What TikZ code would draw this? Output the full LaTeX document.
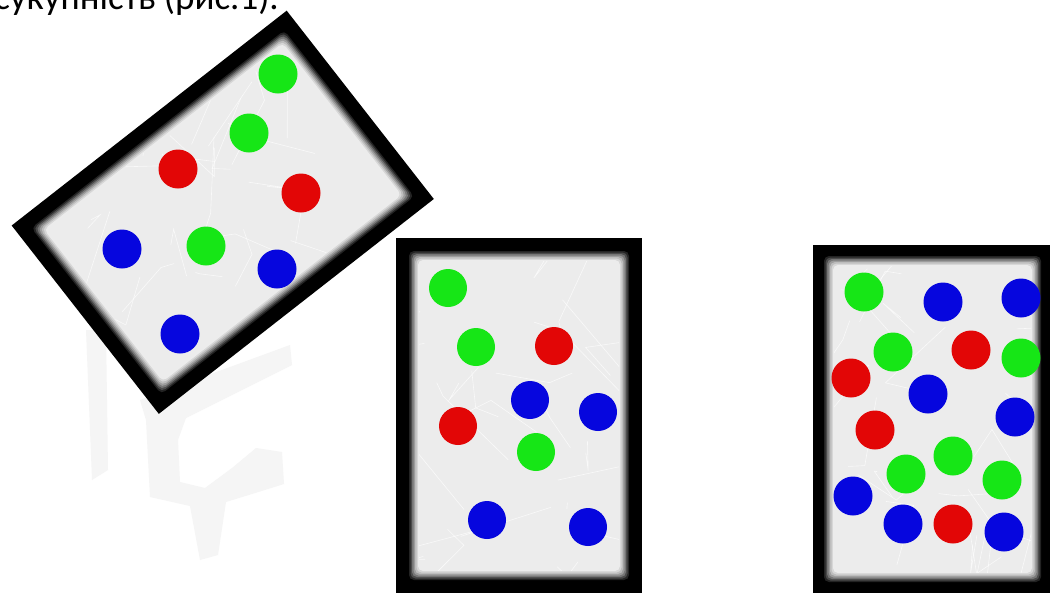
\documentclass[tikz,border=0pt]{standalone}
\usepackage{fontspec}
\setmainfont{Carlito}
\definecolor{paper}{RGB}{236,236,236}
\definecolor{dotgreen}{RGB}{22,230,22}
\definecolor{dotred}{RGB}{226,6,6}
\definecolor{dotblue}{RGB}{6,6,222}
\definecolor{ghost}{RGB}{245,245,245}
\tikzset{
  gdot/.style={fill=dotgreen},
  rdot/.style={fill=dotred},
  bdot/.style={fill=dotblue},
  crinkle/.style={white, line width=0.6pt, opacity=0.7},
  caption/.style={font=\fontsize{37}{42}\selectfont, inner sep=0pt}
}
% x1 y1 x2 y2 border
\newcommand\papercard[5]{%
  \fill[black] (#1,#2) rectangle (#3,#4);
  \foreach \d/\p in {-3/15,-1.5/32,0/50,1.5/66,3/80,4.5/91,6/100}{%
    \fill[paper!\p!black, rounded corners=5pt] ({#1+#5+\d},{#2+#5+\d}) rectangle ({#3-#5-\d},{#4-#5-\d});
  }%
  \begin{scope}
    \clip ({#1+#5+7},{#2+#5+7}) rectangle ({#3-#5-7},{#4-#5-7});
    \foreach \k in {1,...,28}{%
      \pgfmathsetmacro\ax{#1+rnd*(#3-#1)}%
      \pgfmathsetmacro\ay{#2+rnd*(#4-#2)}%
      \pgfmathsetmacro\dx{(rnd-0.5)*140}%
      \pgfmathsetmacro\dy{(rnd-0.5)*140}%
      \draw[crinkle] (\ax,\ay) -- ++(\dx,\dy) -- ++({(rnd-0.5)*60},{(rnd-0.5)*60});
    }%
  \end{scope}%
}
\begin{document}
\begin{tikzpicture}[x=1pt,y=-1pt]
\useasboundingbox (0,0) rectangle (1050,595);
\clip (0,0) rectangle (1050,595);
\fill[white] (0,0) rectangle (1050,595);
\pgfmathsetseed{11}

% caption fragment at the top
\node[caption, anchor=base east] (cap) at (279,9) {сукупність (рис.1).};

% faint ghost shape under the tilted card
\fill[ghost] (86,330) -- (106,330) -- (108,470) -- (92,480) -- cycle;
\fill[ghost] (140,400) -- (290,345) -- (292,365) -- (186,418) -- (178,440)
  -- (180,482) -- (205,488) -- (232,468) -- (256,448) -- (282,452) -- (284,484)
  -- (252,494) -- (226,502) -- (218,555) -- (200,560) -- (190,506) -- (150,497)
  -- (146,420) -- cycle;

% tilted card
\begin{scope}[shift={(222.75,212.25)}, rotate=38]
  \papercard{-174.5}{-119.5}{174.5}{119.5}{17}
\end{scope}
\fill[gdot] (278,74) circle (19.5pt);
\fill[gdot] (249,133) circle (19.5pt);
\fill[rdot] (178,169) circle (19.5pt);
\fill[rdot] (301,193) circle (19.5pt);
\fill[bdot] (122,249) circle (19.5pt);
\fill[gdot] (206,246) circle (19.5pt);
\fill[bdot] (277,269) circle (19.5pt);
\fill[bdot] (180,334) circle (19.5pt);

% middle card
\papercard{396}{238}{642}{593}{16}
\fill[gdot] (448,288) circle (19pt);
\fill[gdot] (476,347) circle (19pt);
\fill[rdot] (554,346) circle (19pt);
\fill[bdot] (530,400) circle (19pt);
\fill[bdot] (598,412) circle (19pt);
\fill[rdot] (458,426) circle (19pt);
\fill[gdot] (536,452) circle (19pt);
\fill[bdot] (487,520) circle (19pt);
\fill[bdot] (588,527) circle (19pt);

% right card
\papercard{813}{245}{1052}{593}{14}
\fill[gdot] (864,292) circle (19.5pt);
\fill[bdot] (943,302) circle (19.5pt);
\fill[bdot] (1021,298) circle (19.5pt);
\fill[gdot] (893,352) circle (19.5pt);
\fill[rdot] (971,350) circle (19.5pt);
\fill[gdot] (1021,358) circle (19.5pt);
\fill[rdot] (851,378) circle (19.5pt);
\fill[bdot] (928,394) circle (19.5pt);
\fill[bdot] (1015,417) circle (19.5pt);
\fill[rdot] (875,430) circle (19.5pt);
\fill[gdot] (953,456) circle (19.5pt);
\fill[gdot] (906,474) circle (19.5pt);
\fill[gdot] (1002,480) circle (19.5pt);
\fill[bdot] (853,496) circle (19.5pt);
\fill[bdot] (903,524) circle (19.5pt);
\fill[rdot] (953,524) circle (19.5pt);
\fill[bdot] (1004,532) circle (19.5pt);
\end{tikzpicture}
\end{document}
